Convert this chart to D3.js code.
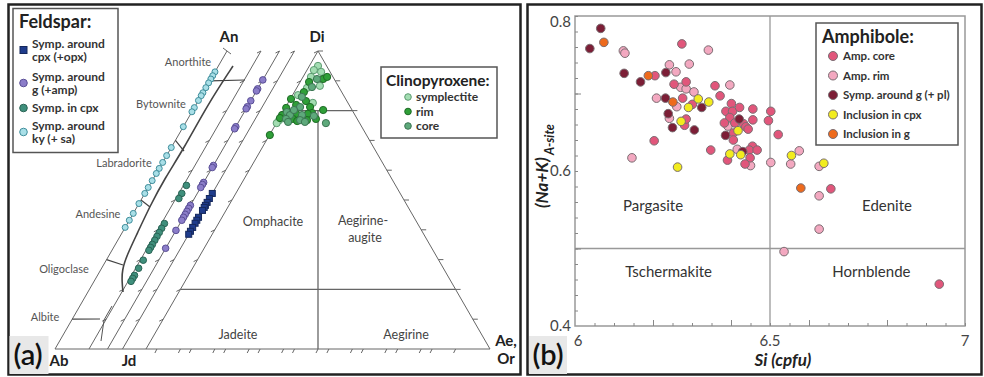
<!DOCTYPE html>
<html>
<head>
<meta charset="utf-8">
<script src="https://cdn.jsdelivr.net/npm/d3@7"></script>
<style>
  body { margin: 0; background: #fff; }
  svg { display: block; font-family: Lato, "Open Sans", sans-serif; }
</style>
</head>
<body>
<svg id="fig" width="984" height="377"></svg>
<script>
// ---- panel (a): feldspar, An fraction along each Ab-An join
const fspKy = [0.93, 0.917, 0.906, 0.893, 0.877, 0.86, 0.85, 0.834, 0.81, 0.796, 0.746,
  0.676, 0.649, 0.626, 0.606, 0.589, 0.565, 0.542, 0.522, 0.488, 0.455, 0.432, 0.408];
const fspInCpx = [0.549, 0.522, 0.505, 0.421, 0.405, 0.391, 0.378, 0.365, 0.351, 0.341,
  0.331, 0.298, 0.271, 0.247, 0.237, 0.227];
const fspAroundG = [0.903, 0.873, 0.866, 0.833, 0.813, 0.806, 0.746, 0.739, 0.616, 0.609,
  0.559, 0.552, 0.542, 0.482, 0.472, 0.462, 0.452, 0.442, 0.432, 0.398, 0.338];
const fspAroundCpx = [0.522, 0.505, 0.492, 0.482, 0.475, 0.465, 0.442, 0.432, 0.422, 0.408,
  0.395, 0.385];

// clinopyroxene, [Quad, Ae]
const cpxSymp = [[0.950, 0.025], [0.936, 0.020], [0.930, 0.044], [0.913, 0.023], [0.876, 0.030],
  [0.768, 0.003], [0.758, 0.001], [0.826, 0.072], [0.852, 0.016], [0.883, 0.064]];
const cpxRim = [[0.896, 0.026], [0.906, 0.062], [0.913, 0.070], [0.862, 0.028], [0.832, 0.049],
  [0.839, 0.002], [0.819, 0.027], [0.812, 0.071], [0.792, 0.087], [0.809, 0.003], [0.785, 0.003],
  [0.789, 0.042], [0.789, 0.076], [0.772, 0.041], [0.768, 0.084], [0.772, 0.108], [0.802, 0.114],
  [0.718, 0.001], [0.765, 0.057], [0.775, 0.002]];
const cpxCore = [[0.906, 0.044], [0.846, 0.030], [0.812, 0.042], [0.795, 0.012], [0.785, 0.026],
  [0.785, 0.061], [0.782, 0.097], [0.772, 0.021], [0.768, 0.064], [0.758, 0.144], [0.802, 0.029],
  [0.879, 0.043], [0.762, 0.032], [0.762, 0.081]];

const plagNames = ['Albite', 'Oligoclase', 'Andesine', 'Labradorite', 'Bytownite', 'Anorthite'];

// ---- panel (b): amphibole, [Si, Na+K]
const ampCore = [[6.274, 0.764], [6.205, 0.723], [6.254, 0.712], [6.285, 0.715], [6.276, 0.694],
  [6.301, 0.686], [6.281, 0.659], [6.285, 0.667], [6.203, 0.639], [6.359, 0.710], [6.372, 0.697],
  [6.401, 0.687], [6.387, 0.677], [6.404, 0.677], [6.422, 0.682], [6.456, 0.680], [6.502, 0.677],
  [6.397, 0.669], [6.383, 0.662], [6.410, 0.662], [6.432, 0.661], [6.438, 0.657], [6.456, 0.666],
  [6.496, 0.665], [6.406, 0.649], [6.444, 0.654], [6.521, 0.647], [6.406, 0.640], [6.348, 0.627],
  [6.455, 0.632], [6.447, 0.627], [6.467, 0.627], [6.449, 0.617], [6.391, 0.614], [6.436, 0.609],
  [6.656, 0.577], [6.934, 0.454]];
const ampRim = [[6.124, 0.755], [6.128, 0.752], [6.342, 0.756], [6.242, 0.737], [6.259, 0.728],
  [6.293, 0.738], [6.271, 0.708], [6.285, 0.706], [6.305, 0.702], [6.209, 0.694], [6.261, 0.683],
  [6.242, 0.668], [6.146, 0.617], [6.397, 0.711], [6.392, 0.658], [6.416, 0.628], [6.450, 0.607],
  [6.502, 0.611], [6.553, 0.609], [6.575, 0.626], [6.626, 0.606], [6.626, 0.568], [6.626, 0.525],
  [6.536, 0.496]];
const ampSymp = [[6.066, 0.784], [6.038, 0.758], [6.126, 0.726], [6.168, 0.715], [6.233, 0.727],
  [6.232, 0.694], [6.325, 0.682], [6.239, 0.674], [6.250, 0.656], [6.306, 0.653], [6.421, 0.667],
  [6.386, 0.646], [6.430, 0.625]];
const ampInCpx = [[6.291, 0.682], [6.316, 0.693], [6.343, 0.689], [6.272, 0.664], [6.263, 0.605],
  [6.418, 0.652], [6.397, 0.622], [6.425, 0.621], [6.555, 0.620], [6.638, 0.610]];
const ampInG = [[6.074, 0.766], [6.188, 0.723], [6.251, 0.689], [6.579, 0.578]];

const siTicks = [6, 6.5, 7];
const nakTicks = [0.4, 0.6, 0.8];

const svg = d3.select('#fig');
const ink = '#444';

// ---------------- panel frames ----------------
svg.append('rect').attr('x', 8.5).attr('y', 4.5).attr('width', 512).attr('height', 370)
  .attr('fill', 'none').attr('stroke', '#222').attr('stroke-width', 2.5);
svg.append('rect').attr('x', 527.5).attr('y', 4.5).attr('width', 454).attr('height', 370)
  .attr('fill', 'none').attr('stroke', '#222').attr('stroke-width', 2.5);

// ---------------- panel (a) ----------------
const a = svg.append('g');
const side = 344;
const yT = d3.scaleLinear().domain([0, 1]).range([349, 51]);
const joinX = b => d3.scaleLinear().domain([0, 1]).range([b, b + side]);
const joins = { ky: joinX(55), inCpx: joinX(89), aroundG: joinX(107.5), aroundCpx: joinX(122.5) };
const xPx = joinX(146);

const line = (x1, y1, x2, y2, w = 1, c = '#666') =>
  a.append('line').attr('x1', x1).attr('y1', y1).attr('x2', x2).attr('y2', y2)
    .attr('stroke', c).attr('stroke-width', w);

// base line
line(55, 349, 490, 349);
// Ab-An joins with small ticks
Object.values(joins).forEach((s, i) => {
  line(s(0), yT(0), s(0.5), yT(1));
  if (i === 0) return;
  d3.range(1, 11).forEach(k => {
    const f = k / 10;
    line(s(f / 2), yT(f), s(f / 2) - 4, yT(f) + 2);
  });
});
// cpx triangle
line(xPx(0), yT(0), xPx(0.5), yT(1));
line(xPx(0.5), yT(1), xPx(1), yT(0));
d3.range(1, 11).forEach(k => {
  const f = k / 10;
  line(xPx(f / 2), yT(f), xPx(f / 2) - 4, yT(f) + 2);
  line(xPx(1 - f / 2), yT(f), xPx(1 - f / 2) + 5, yT(f));
});
d3.range(1, 10).forEach(k => {
  const f = k / 10;
  line(xPx(f), 349, xPx(f) - 2, 353);
  line(joins.aroundCpx(f), 349, joins.aroundCpx(f) - 2, 353);
});
// field boundaries
line(xPx(0.8 / 2), yT(0.8), xPx(1 - 0.8 / 2), yT(0.8), 1.3);
line(xPx(0.2 / 2), yT(0.2), xPx(1 - 0.2 / 2), yT(0.2), 1.3);
line(xPx(0.5), yT(0.8), xPx(0.5), yT(0), 1.3);

// plagioclase classification curve and brackets
const k1 = joins.ky;
a.append('path')
  .attr('d', d3.line().curve(d3.curveBasis)([[233, 66], [208, 104], [183, 150], [165, 178],
    [150, 206], [137, 234], [127, 255], [122, 270], [122, 282], [123, 292]]))
  .attr('fill', 'none').attr('stroke', '#444').attr('stroke-width', 1.6);
[[0.9, 245, 80], [0.7, 184, 151], [0.5, 150, 207], [0.3, 123, 265], [0.1, 100, 319]].forEach(([f, x2, y2]) =>
  line(k1(f / 2), yT(f), x2, y2, 1.2, '#444'));
a.append('path')
  .attr('d', d3.line()([[112, 306], [104, 320], [101, 341]]))
  .attr('fill', 'none').attr('stroke', '#555').attr('stroke-width', 1);
line(k1(0.5) - 4, yT(1) - 3, k1(0.5) + 4, yT(1) + 3);

// classification labels
const plagLabelPos = [[45, 317], [64, 269], [98, 214], [124, 163], [161, 104], [188, 62]];
plagNames.forEach((n, i) => a.append('text').attr('x', plagLabelPos[i][0]).attr('y', plagLabelPos[i][1])
  .attr('dy', '0.35em').attr('text-anchor', 'middle').attr('font-size', 11).attr('fill', '#555').text(n));

const fieldText = (t, x, y) => a.append('text').attr('x', x).attr('y', y).attr('dy', '0.35em')
  .attr('text-anchor', 'middle').attr('font-size', 12.5).attr('fill', ink).text(t);
fieldText('Omphacite', 273, 222);
fieldText('Aegirine-', 363, 221);
fieldText('augite', 365, 238);
fieldText('Jadeite', 238, 335);
fieldText('Aegirine', 406, 335);

const apex = (t, x, y) => a.append('text').attr('x', x).attr('y', y).attr('dy', '0.35em')
  .attr('text-anchor', 'middle').attr('font-size', 15).attr('font-weight', 700).attr('fill', '#222').text(t);
apex('An', 229, 37);
apex('Di', 317, 37);
apex('Ab', 59, 361);
apex('Jd', 129, 361);
apex('Ae,', 506, 341);
apex('Or', 506, 359);

// feldspar points
const fspStyles = [
  { data: fspKy, s: joins.ky, dx: 0, fill: '#a9dfe7', stroke: '#3f8e9c', r: 3 },
  { data: fspInCpx, s: joins.inCpx, dx: 3, fill: '#3f8f7c', stroke: '#2a6455', r: 3.3 },
  { data: fspAroundG, s: joins.aroundG, dx: 0, fill: '#8b7dc9', stroke: '#5a4f96', r: 3.3 }
];
fspStyles.forEach(st => {
  a.append('g').selectAll('circle').data(st.data).enter().append('circle')
    .attr('cx', d => st.s(d / 2) + st.dx).attr('cy', d => yT(d))
    .attr('r', st.r).attr('fill', st.fill).attr('stroke', st.stroke).attr('stroke-width', 1);
});
a.append('g').selectAll('rect').data(fspAroundCpx).enter().append('rect')
  .attr('x', d => joins.aroundCpx(d / 2) - 3).attr('y', d => yT(d) - 3)
  .attr('width', 6).attr('height', 6).attr('fill', '#1f3c8c').attr('stroke', '#15285c');

// clinopyroxene points
[[cpxSymp, '#a3ddb2', '#5b9b70'], [cpxRim, '#2f9f38', '#1e6a26'], [cpxCore, '#5ea97b', '#3c7553']]
  .forEach(([data, fill, stroke]) => {
    a.append('g').selectAll('circle').data(data).enter().append('circle')
      .attr('cx', d => xPx(d[1] + d[0] / 2)).attr('cy', d => yT(d[0]))
      .attr('r', 3.6).attr('fill', fill).attr('stroke', stroke).attr('stroke-width', 1);
  });

// feldspar legend
a.append('rect').attr('x', 13).attr('y', 8.5).attr('width', 105).attr('height', 144)
  .attr('fill', '#fff').attr('stroke', '#555').attr('stroke-width', 1.5);
a.append('text').attr('x', 19).attr('y', 22).attr('dy', '0.35em').attr('font-size', 18)
  .attr('font-weight', 700).attr('fill', '#222').text('Feldspar:');
const fLeg = [
  { lines: ['Symp. around', 'cpx (+opx)'], y: 50, sq: true, fill: '#1f3c8c', stroke: '#15285c' },
  { lines: ['Symp. around', 'g (+amp)'], y: 83, fill: '#8b7dc9', stroke: '#5a4f96' },
  { lines: ['Symp. in cpx'], y: 108, fill: '#3f8f7c', stroke: '#2a6455' },
  { lines: ['Symp. around', 'ky (+ sa)'], y: 132, fill: '#a9dfe7', stroke: '#3f8e9c' }
];
fLeg.forEach(e => {
  if (e.sq) a.append('rect').attr('x', 20).attr('y', e.y - 3.5).attr('width', 7).attr('height', 7)
    .attr('fill', e.fill).attr('stroke', e.stroke);
  else a.append('circle').attr('cx', 23.5).attr('cy', e.y).attr('r', 3.8).attr('fill', e.fill).attr('stroke', e.stroke);
  const t = a.append('text').attr('x', 32).attr('font-size', 12).attr('font-weight', 700).attr('fill', '#333');
  e.lines.forEach((l, i) => t.append('tspan').attr('x', 32)
    .attr('y', e.y + (e.lines.length === 1 ? 0 : (i === 0 ? -6.5 : 7))).attr('dy', '0.35em').text(l));
});

// clinopyroxene legend
a.append('rect').attr('x', 381).attr('y', 67).attr('width', 116).attr('height', 71)
  .attr('fill', '#fff').attr('stroke', '#555').attr('stroke-width', 1.5);
a.append('text').attr('x', 386).attr('y', 81).attr('dy', '0.35em').attr('font-size', 15.5)
  .attr('font-weight', 700).attr('fill', '#222').text('Clinopyroxene:');
[['symplectite', '#a3ddb2', '#5b9b70'], ['rim', '#2f9f38', '#1e6a26'], ['core', '#5ea97b', '#3c7553']]
  .forEach(([n, fill, stroke], i) => {
    const y = 97 + i * 14.5;
    a.append('circle').attr('cx', 408).attr('cy', y).attr('r', 3.3).attr('fill', fill).attr('stroke', stroke);
    a.append('text').attr('x', 416).attr('y', y).attr('dy', '0.35em').attr('font-size', 12)
      .attr('font-weight', 700).attr('fill', '#333').text(n);
  });

// (a) tag
a.append('rect').attr('x', 9.5).attr('y', 336).attr('width', 39).attr('height', 38).attr('fill', '#e8e8e8');
a.append('text').attr('x', 28).attr('y', 355).attr('dy', '0.35em').attr('text-anchor', 'middle')
  .attr('font-size', 29).attr('font-weight', 600).attr('fill', '#111').text('(a)');

// ---------------- panel (b) ----------------
const b = svg.append('g');
const x = d3.scaleLinear().domain([6, 7]).range([575, 965]);
const y = d3.scaleLinear().domain([0.4, 0.8]).range([326, 16]);

b.append('rect').attr('x', x(6)).attr('y', y(0.8)).attr('width', x(7) - x(6)).attr('height', y(0.4) - y(0.8))
  .attr('fill', 'none').attr('stroke', '#999').attr('stroke-width', 1.5);
b.append('line').attr('x1', x(6.5)).attr('x2', x(6.5)).attr('y1', y(0.8)).attr('y2', y(0.4))
  .attr('stroke', '#999').attr('stroke-width', 1.3);
b.append('line').attr('x1', x(6)).attr('x2', x(7)).attr('y1', y(0.5)).attr('y2', y(0.5))
  .attr('stroke', '#999').attr('stroke-width', 1.3);

const styleAxis = g => { g.select('.domain').remove(); g.selectAll('line').attr('stroke', '#888'); };
b.append('g').attr('transform', `translate(0,${y(0.4)})`)
  .call(d3.axisBottom(x).tickValues(d3.range(6.05, 7, 0.05)).tickSize(-3).tickFormat(''))
  .call(styleAxis);
b.append('g').attr('transform', `translate(0,${y(0.4)})`)
  .call(d3.axisBottom(x).tickValues(d3.range(6.2, 6.9, 0.2)).tickSize(-6).tickFormat(''))
  .call(styleAxis);
b.append('g').attr('transform', `translate(${x(6)},0)`)
  .call(d3.axisLeft(y).tickValues(d3.range(0.42, 0.8, 0.02)).tickSize(-3).tickFormat(''))
  .call(styleAxis);
b.append('g').attr('transform', `translate(${x(6)},0)`)
  .call(d3.axisLeft(y).tickValues([0.5, 0.7]).tickSize(-6).tickFormat(''))
  .call(styleAxis);

b.selectAll('.xl').data(siTicks).enter().append('text')
  .attr('x', d => x(d) + (d === 6 ? 3 : 0)).attr('y', 341).attr('dy', '0.35em')
  .attr('text-anchor', 'middle').attr('font-size', 15).attr('fill', ink).text(d => d);
b.selectAll('.yl').data(nakTicks).enter().append('text')
  .attr('x', 571).attr('y', d => y(d) + (d === 0.8 ? 6 : 0)).attr('dy', '0.35em')
  .attr('text-anchor', 'end').attr('font-size', 15).attr('fill', ink).text(d => d);

b.append('text').attr('x', 783).attr('y', 360).attr('dy', '0.35em').attr('text-anchor', 'middle')
  .attr('font-size', 17).attr('font-weight', 700).attr('font-style', 'italic').attr('fill', '#222')
  .text('Si (cpfu)');
const yt = b.append('text').attr('transform', 'translate(542,166) rotate(-90)').attr('text-anchor', 'middle')
  .attr('dy', '0.35em').attr('fill', '#222').attr('font-style', 'italic');
yt.append('tspan').attr('font-size', 17).attr('font-weight', 700).text('(Na+K)');
yt.append('tspan').attr('font-size', 12.5).attr('font-weight', 700).attr('dy', 6).text(' A-site');

const regions = [['Pargasite', 6.2, 0.555], ['Tschermakite', 6.24, 0.47], ['Edenite', 6.8, 0.555], ['Hornblende', 6.76, 0.47]];
regions.forEach(([n, sx, ny]) => b.append('text').attr('x', x(sx)).attr('y', y(ny)).attr('dy', '0.35em')
  .attr('text-anchor', 'middle').attr('font-size', 15).attr('fill', '#333').text(n));

const ampSeries = [
  { name: 'Amp. core', data: ampCore, fill: '#e1567b' },
  { name: 'Amp. rim', data: ampRim, fill: '#f3a8c0' },
  { name: 'Symp. around g (+ pl)', data: ampSymp, fill: '#7c1e36' },
  { name: 'Inclusion in cpx', data: ampInCpx, fill: '#f2ec1e' },
  { name: 'Inclusion in g', data: ampInG, fill: '#ee6a1c' }
];
[1, 0, 2, 3, 4].forEach(i => {
  const s = ampSeries[i];
  b.append('g').selectAll('circle').data(s.data).enter().append('circle')
    .attr('cx', d => x(d[0])).attr('cy', d => y(d[1])).attr('r', 4.3)
    .attr('fill', s.fill).attr('stroke', '#7a6d72').attr('stroke-width', 1);
});

// amphibole legend
b.append('rect').attr('x', 816).attr('y', 23).attr('width', 142).attr('height', 122)
  .attr('fill', '#fff').attr('stroke', '#555').attr('stroke-width', 1.5);
b.append('text').attr('x', 822).attr('y', 37).attr('dy', '0.35em').attr('font-size', 18)
  .attr('font-weight', 700).attr('fill', '#222').text('Amphibole:');
ampSeries.forEach((s, i) => {
  const ly = 56 + i * 19.5;
  b.append('circle').attr('cx', 833).attr('cy', ly).attr('r', 4.5).attr('fill', s.fill)
    .attr('stroke', '#7a6d72');
  b.append('text').attr('x', 843).attr('y', ly).attr('dy', '0.35em').attr('font-size', 11.5)
    .attr('font-weight', 700).attr('fill', '#333').text(s.name);
});

// (b) tag
b.append('rect').attr('x', 529).attr('y', 336).attr('width', 38).attr('height', 38).attr('fill', '#e8e8e8');
b.append('text').attr('x', 548).attr('y', 355).attr('dy', '0.35em').attr('text-anchor', 'middle')
  .attr('font-size', 29).attr('font-weight', 600).attr('fill', '#111').text('(b)');
</script>
</body>
</html>
